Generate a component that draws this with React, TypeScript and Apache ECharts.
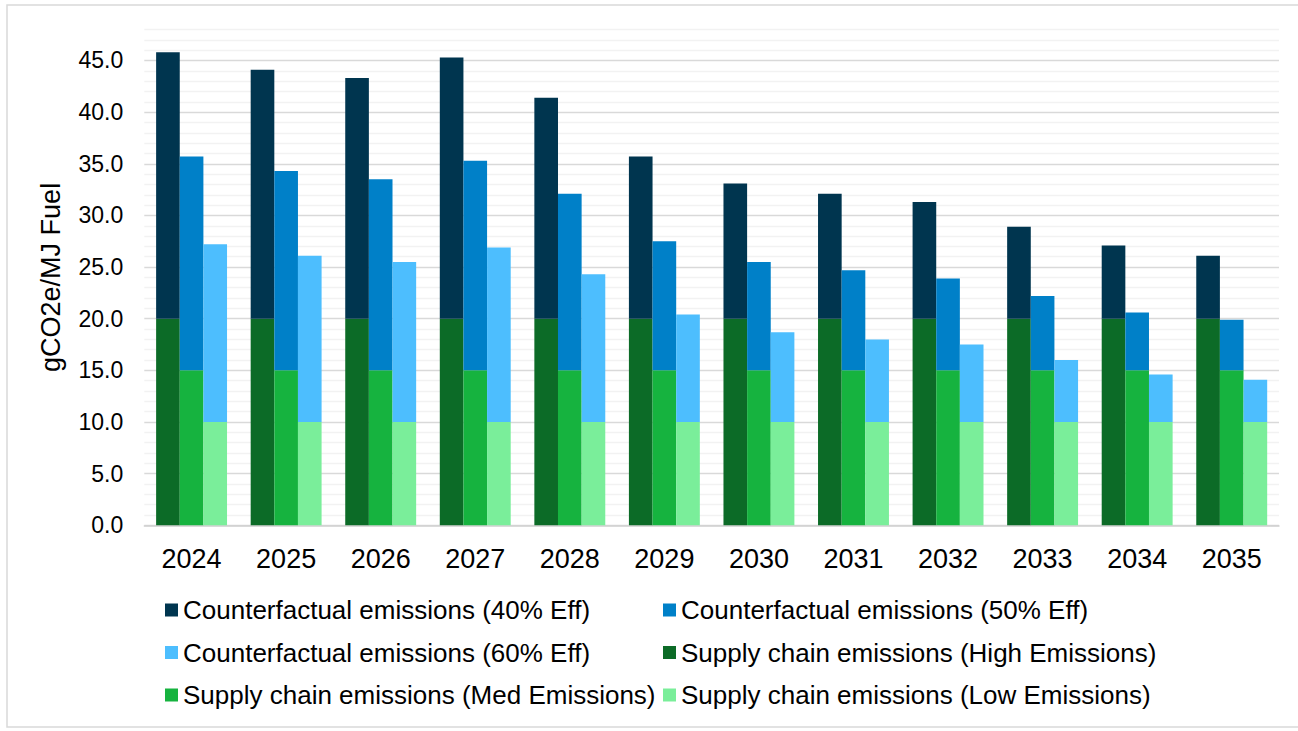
import React, { useEffect, useRef } from "react";
import * as echarts from "echarts";

const years = ["2024", "2025", "2026", "2027", "2028", "2029", "2030", "2031", "2032", "2033", "2034", "2035"];

// Total bar heights (top of counterfactual bars)
const cf40Top = [45.8, 44.1, 43.3, 45.3, 41.4, 35.7, 33.1, 32.1, 31.3, 28.9, 27.1, 26.1];
const cf50Top = [35.7, 34.3, 33.5, 35.3, 32.1, 27.5, 25.5, 24.7, 23.9, 22.2, 20.6, 19.9];
const cf60Top = [27.2, 26.1, 25.5, 26.9, 24.3, 20.4, 18.7, 18.0, 17.5, 16.0, 14.6, 14.1];

// Supply chain emissions
const supplyHigh = [20, 20, 20, 20, 20, 20, 20, 20, 20, 20, 20, 20];
const supplyMed = [15, 15, 15, 15, 15, 15, 15, 15, 15, 15, 15, 15];
const supplyLow = [10, 10, 10, 10, 10, 10, 10, 10, 10, 10, 10, 10];

const names = [
  "Counterfactual emissions (40% Eff)",
  "Counterfactual emissions (50% Eff)",
  "Counterfactual emissions (60% Eff)",
  "Supply chain emissions (High Emissions)",
  "Supply chain emissions (Med Emissions)",
  "Supply chain emissions (Low Emissions)",
];

const colors = ["#00354F", "#0080C8", "#4DBEFE", "#0C6B27", "#16B33F", "#7AEE9A"];

const FONT = "'Liberation Sans', Arial, Helvetica, sans-serif";

export default function App() {
  const ref = useRef<HTMLDivElement>(null);

  useEffect(() => {
    if (!ref.current) return;
    const chart = echarts.init(ref.current, undefined, { renderer: "svg" });
    const diff = (top: number[], base: number[]) =>
      top.map((v, i) => +(v - base[i]).toFixed(2));

    const bar = (name: string, stack: string, data: number[], color: string) => ({
      name,
      type: "bar",
      stack,
      data,
      barGap: "0%",
      barCategoryGap: "25%",
      itemStyle: { color },
      emphasis: { disabled: true },
    });

    const legendCommon = {
      orient: "vertical",
      top: 597,
      padding: 0,
      itemWidth: 13,
      itemHeight: 13,
      itemGap: 16.5,
      icon: "rect",
      textStyle: { fontFamily: FONT, fontSize: 26, color: "#000" },
    };

    chart.setOption({
      animation: false,
      textStyle: { fontFamily: FONT },
      grid: { left: 144.3, right: 19, top: 29.5, bottom: 205.7, containLabel: false },
      graphic: [
        {
          type: "rect",
          shape: { x: 7, y: 5, width: 1300, height: 722 },
          style: { fill: "none", stroke: "#d9d9d9", lineWidth: 1.5 },
          silent: true,
        },
      ],
      legend: [
        { ...legendCommon, left: 165, data: [names[0], names[2], names[4]] },
        { ...legendCommon, left: 663, data: [names[1], names[3], names[5]] },
      ],
      xAxis: {
        type: "category",
        data: years,
        axisTick: { show: false },
        axisLine: { lineStyle: { color: "#d0d0d0", width: 1.5 } },
        axisLabel: { color: "#000", fontSize: 27, margin: 20, fontFamily: FONT },
      },
      yAxis: {
        type: "value",
        min: 0,
        max: 48,
        interval: 1,
        name: "gCO2e/MJ Fuel",
        nameLocation: "middle",
        nameGap: 80,
        nameTextStyle: { color: "#000", fontSize: 27, fontFamily: FONT },
        axisLine: { show: false },
        axisTick: { show: false },
        axisLabel: {
          color: "#000",
          fontSize: 23,
          margin: 21,
          fontFamily: FONT,
          formatter: (v: number) => (v % 5 === 0 ? v.toFixed(1) : ""),
        },
        splitLine: {
          lineStyle: {
            color: ["#d9d9d9", "#f2f2f2", "#f2f2f2", "#f2f2f2", "#f2f2f2"],
            width: 1.3,
          },
        },
      },
      series: [
        bar(names[3], "a", supplyHigh, colors[3]),
        bar(names[4], "b", supplyMed, colors[4]),
        bar(names[5], "c", supplyLow, colors[5]),
        bar(names[0], "a", diff(cf40Top, supplyHigh), colors[0]),
        bar(names[1], "b", diff(cf50Top, supplyMed), colors[1]),
        bar(names[2], "c", diff(cf60Top, supplyLow), colors[2]),
      ],
    });
    return () => chart.dispose();
  }, []);

  return (
    <div
      ref={ref}
      style={{ position: "fixed", left: 0, top: 0, width: 1298, height: 731, background: "#fff" }}
    />
  );
}
